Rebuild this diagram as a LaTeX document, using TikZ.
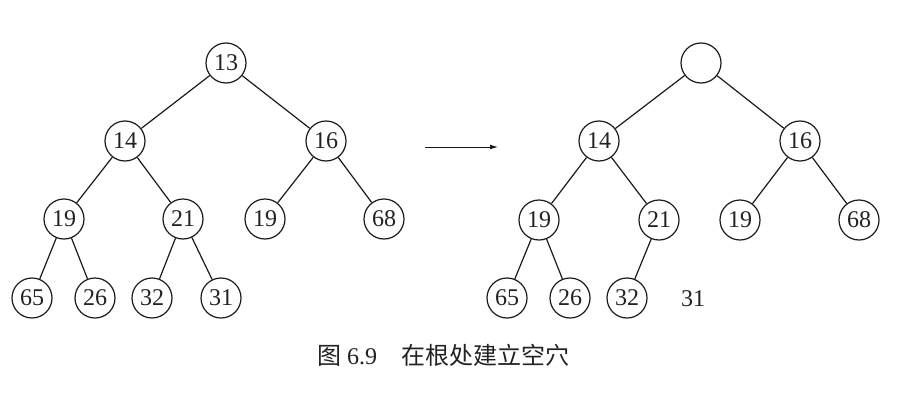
\documentclass[tikz,border=0pt]{standalone}
\usepackage{fontspec}
\setmainfont{Liberation Serif}
\newfontfamily\cjkfont{Noto Sans CJK SC}
\usetikzlibrary{positioning, arrows.meta}
\definecolor{cLine}{HTML}{1A1A1A}
\definecolor{cText}{HTML}{222222}

\begin{document}
\begin{tikzpicture}[x=0.5pt, y=-0.5pt,
    heapnode/.style={draw=cLine, circle, line width=0.6pt, minimum size=20pt,
                     inner sep=0pt, font=\fontsize{12}{13}\selectfont, text=cText},
    link/.style={draw=cLine, line width=0.6pt}]
  \useasboundingbox (0,0) rectangle (904,412);
  % heap before
  \node[heapnode] (a1) at (226,63) {13};
  \node[heapnode] (a2) at (125,141) {14};
  \node[heapnode] (a3) at (326,141) {16};
  \node[heapnode] (a4) at (64,219) {19};
  \node[heapnode] (a5) at (183,219) {21};
  \node[heapnode] (a6) at (265,219) {19};
  \node[heapnode] (a7) at (384,219) {68};
  \node[heapnode] (a8) at (32,298) {65};
  \node[heapnode] (a9) at (95,298) {26};
  \node[heapnode] (a10) at (152,298) {32};
  \node[heapnode] (a11) at (221,298) {31};
  \draw[link] (a1) -- (a2);
  \draw[link] (a1) -- (a3);
  \draw[link] (a2) -- (a4);
  \draw[link] (a2) -- (a5);
  \draw[link] (a3) -- (a6);
  \draw[link] (a3) -- (a7);
  \draw[link] (a4) -- (a8);
  \draw[link] (a4) -- (a9);
  \draw[link] (a5) -- (a10);
  \draw[link] (a5) -- (a11);
  % arrow
  \coordinate (arrS) at (425,147);
  \coordinate (arrE) at (498,147);
  \draw[link, line width=0.45pt, -{Latex[length=4pt, width=2.4pt]}] (arrS) -- (arrE);
  % heap after, hole at root
  \node[heapnode] (b1) at (701,63) {};
  \node[heapnode] (b2) at (599,141) {14};
  \node[heapnode] (b3) at (800,141) {16};
  \node[heapnode] (b4) at (539,220) {19};
  \node[heapnode] (b5) at (659,220) {21};
  \node[heapnode] (b6) at (740,220) {19};
  \node[heapnode] (b7) at (859,220) {68};
  \node[heapnode] (b8) at (507,298) {65};
  \node[heapnode] (b9) at (570,298) {26};
  \node[heapnode] (b10) at (627,298) {32};
  \node[font=\fontsize{12}{13}\selectfont, text=cText] (last) at (693,299) {31};
  \draw[link] (b1) -- (b2);
  \draw[link] (b1) -- (b3);
  \draw[link] (b2) -- (b4);
  \draw[link] (b2) -- (b5);
  \draw[link] (b3) -- (b6);
  \draw[link] (b3) -- (b7);
  \draw[link] (b4) -- (b8);
  \draw[link] (b4) -- (b9);
  \draw[link] (b5) -- (b10);
  % caption
  \node[font=\fontsize{12}{13}\selectfont, text=cText] (cap) at (443,355)
    {{\cjkfont 图} 6.9\hspace{1em}{\cjkfont 在根处建立空穴}};
\end{tikzpicture}
\end{document}
